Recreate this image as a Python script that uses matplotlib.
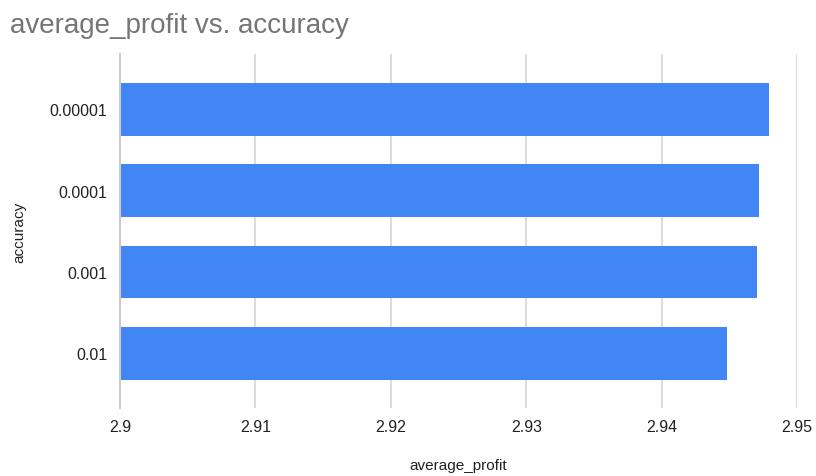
import matplotlib.pyplot as plt

# data
accuracy = ["0.01", "0.001", "0.0001", "0.00001"]
average_profit = [2.9448, 2.9470, 2.9472, 2.9479]
xticks = [2.9, 2.91, 2.92, 2.93, 2.94, 2.95]
xtick_labels = ["2.9", "2.91", "2.92", "2.93", "2.94", "2.95"]

plt.rcParams['font.family'] = ['Liberation Sans', 'DejaVu Sans']

fig = plt.figure(figsize=(8.16, 4.77), dpi=100)
ax = fig.add_axes([0.147, 0.1426, 0.830, 0.742])

ypos = list(range(len(accuracy)))
ax.barh(ypos, [v - 2.9 for v in average_profit], left=2.9, height=0.645,
        color='#4285F4', zorder=3)

ax.set_xlim(2.9, 2.95)
ax.set_ylim(-0.67, 3.68)
ax.set_xticks(xticks)
ax.set_xticklabels(xtick_labels)
ax.set_yticks(ypos)
ax.set_yticklabels(accuracy)
ax.tick_params(axis='both', length=0, labelsize=11.5, colors='#222222')
ax.tick_params(axis='x', pad=8)
ax.tick_params(axis='y', pad=9)

ax.grid(axis='x', color='#d6d6d6', linewidth=1.2, zorder=0)
for s in ['top', 'right', 'bottom']:
    ax.spines[s].set_visible(False)
ax.spines['left'].set_color('#cccccc')
ax.spines['left'].set_linewidth(1.5)
ax.spines['left'].set_zorder(4)

ax.set_xlabel('average_profit', fontsize=11, color='#222222', labelpad=17)
ax.set_ylabel('accuracy', fontsize=11, color='#222222', labelpad=17)

fig.text(0.012, 0.93, 'average_profit vs. accuracy', fontsize=20, color='#757575')

fig.savefig('out.png')
